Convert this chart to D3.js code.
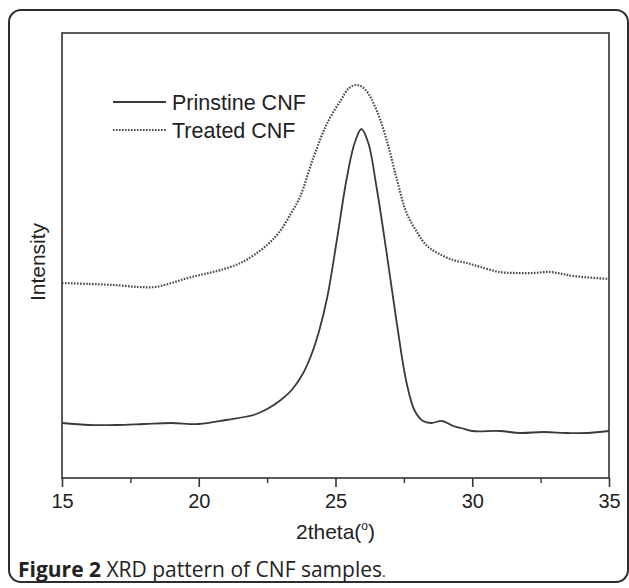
<!DOCTYPE html>
<html>
<head>
<meta charset="utf-8">
<script src="https://d3js.org/d3.v7.min.js"></script>
<style>
  body { margin: 0; background: #fff; }
  text { font-family: "Liberation Sans", Arial, sans-serif; fill: #222; }
  .caption { font-family: "Open Sans", "Noto Sans", sans-serif; }
</style>
</head>
<body>
<script>

// XRD data (2theta in degrees, intensity in arbitrary units)
var prinstineTheta = [15, 16, 17, 18, 19, 20, 21, 22, 22.5, 23, 23.4, 23.8, 24.1, 24.4, 24.7, 25.05, 25.4, 25.7, 25.95,
    26.2, 26.5, 26.87, 27.24, 27.6, 27.9, 28.2, 28.5, 28.9, 29.3, 29.6, 30, 31, 31.75, 32.6, 33.5, 34.2, 35];
var prinstineIntensity = [55, 53, 53, 54, 55, 54, 58, 63, 69, 78, 88, 104, 122, 147, 181, 238, 298, 335, 349,
    335, 291, 225, 155, 95, 67, 57, 55, 57, 52, 50, 47, 47, 45, 46, 45, 45, 47];

var treatedTheta = [15, 16, 16.9, 17.8, 18.4, 19, 19.6, 20.2, 20.8, 21.6, 22.5, 23, 23.4, 23.7, 24.2, 24.7, 25.2, 25.5,
    25.8, 26.1, 26.5, 26.9, 27.25, 27.6, 28, 28.35, 28.8, 29.3, 29.8, 30.3, 31, 31.6, 32.2, 32.85, 33.3, 33.7, 35];
var treatedIntensity = [195, 194, 193, 191, 191, 195, 200, 204, 208, 216, 233, 248, 266, 281, 321, 355, 378, 390,
    393, 388, 368, 335, 298, 265, 245, 232, 224, 218, 215, 211, 206, 205, 205, 206, 204, 202, 199];

var seriesNames = ["Prinstine CNF", "Treated CNF"];
var majorTicks = [15, 20, 25, 30, 35];
var minorTicks = [17.5, 22.5, 27.5, 32.5];

var margin = {top: 33, right: 20, bottom: 110, left: 62};
var width = 629 - margin.left - margin.right;
var height = 588 - margin.top - margin.bottom;

var xScale = d3.scaleLinear().domain([15, 35]).range([0, width]);
var yScale = d3.scaleLinear().domain([0, 445]).range([height, 0]);

var root = d3.select("body").append("svg")
    .attr("width", 629)
    .attr("height", 588);

// rounded frame round the whole figure
root.append("rect")
    .attr("x", 9).attr("y", 10)
    .attr("width", 619).attr("height", 572)
    .attr("rx", 12).attr("ry", 12)
    .attr("fill", "none")
    .attr("stroke", "#2e2e2e")
    .attr("stroke-width", 2);

var svg = root.append("g")
    .attr("transform", "translate(" + margin.left + "," + margin.top + ")");

function toPoints(xs, ys) {
    return xs.map(function(d, i) { return {x: d, y: ys[i]}; });
}

var line = d3.line()
    .x(function(d) { return xScale(d.x); })
    .y(function(d) { return yScale(d.y); })
    .curve(d3.curveCatmullRom);

function drawAxes() {
    // box: top and right borders
    svg.append("rect")
        .attr("width", width).attr("height", height)
        .attr("fill", "none")
        .attr("stroke", "#333")
        .attr("stroke-width", 1.6);

    var xAxis = d3.axisBottom(xScale).tickValues(majorTicks).tickSize(9).tickPadding(7);
    var gx = svg.append("g")
        .attr("class", "x axis")
        .attr("transform", "translate(0," + height + ")")
        .call(xAxis);
    gx.select(".domain").remove();
    gx.selectAll("line").attr("stroke", "#333").attr("stroke-width", 1.6);
    gx.selectAll("text").attr("font-size", 20).style("font-family", "'Liberation Sans', Arial, sans-serif").attr("fill", "#222");

    var xMinor = d3.axisBottom(xScale).tickValues(minorTicks).tickSize(5).tickFormat("");
    var gm = svg.append("g")
        .attr("transform", "translate(0," + height + ")")
        .call(xMinor);
    gm.select(".domain").remove();
    gm.selectAll("line").attr("stroke", "#333").attr("stroke-width", 1.4);

    // axis titles
    var xt = svg.append("text")
        .attr("x", width / 2)
        .attr("y", height + 61)
        .attr("text-anchor", "middle")
        .attr("font-size", 21);
    xt.append("tspan").text("2theta(");
    xt.append("tspan").attr("font-size", 12).attr("dy", -9).text("o");
    xt.append("tspan").attr("dy", 9).text(")");

    svg.append("text")
        .attr("transform", "translate(-17," + (262 - margin.top) + ") rotate(-90)")
        .attr("text-anchor", "middle")
        .attr("font-size", 21)
        .text("Intensity");
}

function drawLines() {
    svg.append("path")
        .datum(toPoints(treatedTheta, treatedIntensity))
        .attr("d", line)
        .attr("fill", "none")
        .attr("stroke", "#4a4a4a")
        .attr("stroke-width", 2.2)
        .attr("stroke-dasharray", "1.6,1.4");

    svg.append("path")
        .datum(toPoints(prinstineTheta, prinstineIntensity))
        .attr("d", line)
        .attr("fill", "none")
        .attr("stroke", "#3a3a3a")
        .attr("stroke-width", 1.8);
}

function drawLegend() {
    var legend = root.append("g");
    seriesNames.forEach(function(name, i) {
        var y = 102 + i * 28;
        legend.append("line")
            .attr("x1", 113).attr("x2", 166)
            .attr("y1", y).attr("y2", y)
            .attr("stroke", i == 0 ? "#3a3a3a" : "#4a4a4a")
            .attr("stroke-width", i == 0 ? 1.8 : 2)
            .attr("stroke-dasharray", i == 0 ? null : "1.6,1.4");
        legend.append("text")
            .attr("x", 172)
            .attr("y", y + 8)
            .attr("font-size", 21.5)
            .text(name);
    });
}

function drawCaption() {
    var cap = root.append("text")
        .attr("class", "caption")
        .attr("x", 18)
        .attr("y", 577)
        .attr("font-size", 21);
    cap.append("tspan").attr("font-weight", "bold").text("Figure 2");
    cap.append("tspan").text(" XRD pattern of CNF samples");
    cap.append("tspan").attr("font-size", 14).text(".");
}

drawAxes();
drawLines();
drawLegend();
drawCaption();

</script>
</body>
</html>
